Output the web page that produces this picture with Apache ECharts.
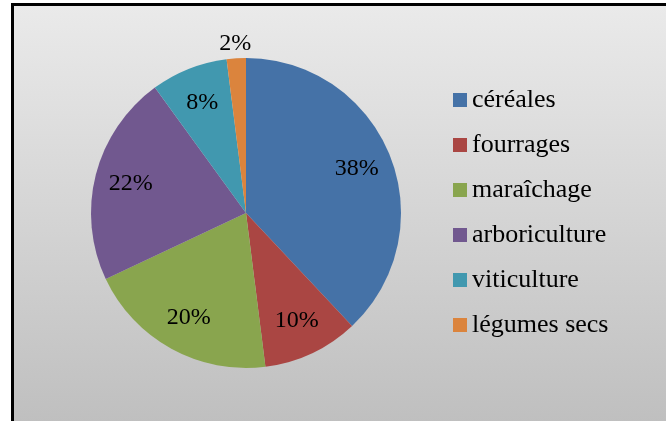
<!DOCTYPE html>
<html>
<head>
<meta charset="utf-8">
<script src="https://cdn.jsdelivr.net/npm/echarts@6/dist/echarts.min.js"></script>
<style>
  html, body { margin: 0; padding: 0; width: 666px; height: 421px; overflow: hidden; background: #ffffff; }
  #frame { position: absolute; left: 11px; top: 3px; width: 720px; height: 460px;
           border: 3px solid #000; background: linear-gradient(to bottom, #eaeaea 0px, #bfbfbf 418px, #bfbfbf 100%); }
  #chart { position: absolute; left: 0; top: 0; width: 666px; height: 421px; }
</style>
</head>
<body>
<div id="frame"></div>
<div id="chart"></div>
<script>
const categories = ['céréales', 'fourrages', 'maraîchage', 'arboriculture', 'viticulture', 'légumes secs'];
const values = [38, 10, 20, 22, 8, 2];
const colors = ['#4572A7', '#AA4643', '#89A54E', '#71588F', '#4198AF', '#DB843D'];
const outsideLabel = [false, false, false, false, false, true];

const FONT = "'Liberation Serif', 'DejaVu Serif', serif";
const CENTER = [246, 213];
const R = 155;

const mainData = categories.map((n, i) => ({ name: n, value: values[i], itemStyle: { color: colors[i] } }));
const innerLabelData = categories.map((n, i) => ({ name: n, value: values[i], label: { show: !outsideLabel[i] } }));
const outerLabelData = categories.map((n, i) => ({ name: n, value: values[i], label: { show: outsideLabel[i] } }));

const labelStyle = { fontFamily: FONT, fontSize: 24, color: '#000', position: 'inside', formatter: '{d}%' };
const overlayBase = {
  type: 'pie', center: CENTER, startAngle: 90, clockwise: true, silent: true,
  itemStyle: { color: 'rgba(0,0,0,0)', borderWidth: 0 }, emphasis: { disabled: true },
  labelLine: { show: false }, animation: false, legendHoverLink: false
};

const chart = echarts.init(document.getElementById('chart'), null, { renderer: 'canvas' });
chart.setOption({
  backgroundColor: 'transparent',
  animation: false,
  textStyle: { fontFamily: FONT },
  legend: {
    orient: 'vertical', left: 453, top: 87, padding: 0,
    itemWidth: 14, itemHeight: 14, itemGap: 19, icon: 'rect',
    selectedMode: false,
    textStyle: { fontFamily: FONT, fontSize: 26, color: '#000', lineHeight: 26 },
    data: categories
  },
  series: [
    {
      name: 'main', type: 'pie', center: CENTER, radius: [0, R], startAngle: 90, clockwise: true,
      label: { show: false }, labelLine: { show: false }, emphasis: { disabled: true },
      itemStyle: { borderWidth: 0 }, data: mainData
    },
    Object.assign({}, overlayBase, { name: 'labIn', radius: [0, 232], label: labelStyle, data: innerLabelData }),
    Object.assign({}, overlayBase, { name: 'labOut', radius: [0, 334], label: labelStyle, data: outerLabelData })
  ]
});
</script>
</body>
</html>
